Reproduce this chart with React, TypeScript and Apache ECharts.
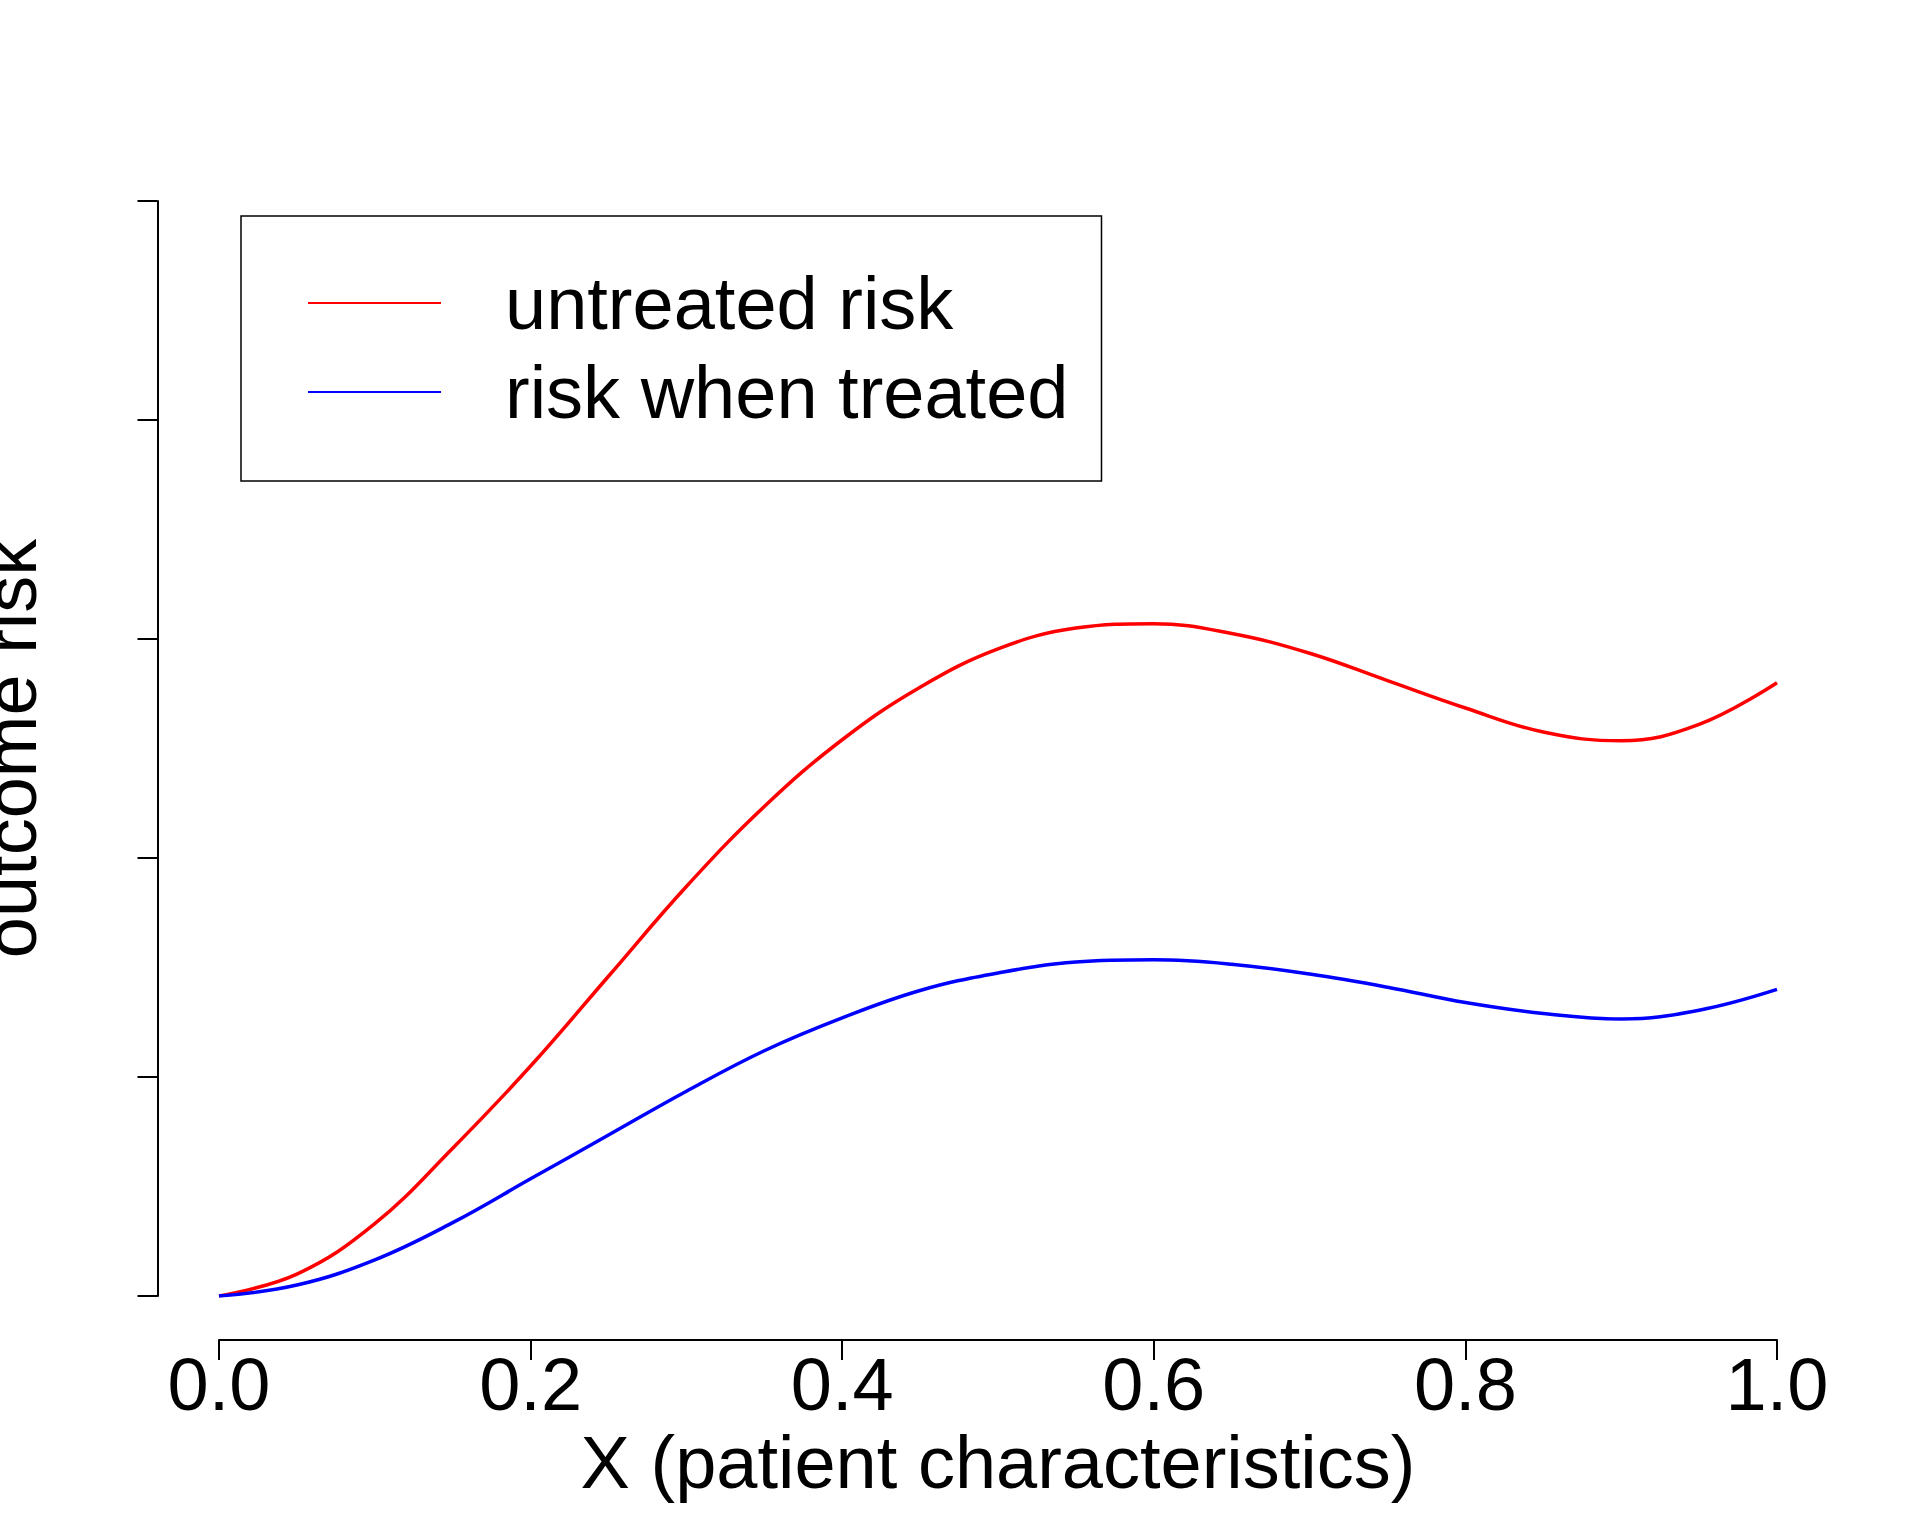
import React, { useEffect, useRef } from "react";
import * as echarts from "echarts";

const xValues = [0, 0.05, 0.1, 0.15, 0.2, 0.25, 0.3, 0.35, 0.4, 0.45, 0.5, 0.55, 0.6, 0.65, 0.7, 0.75, 0.8, 0.85, 0.9, 0.95, 1.0];
const untreatedRisk = [0, 0.02, 0.066, 0.135, 0.21, 0.292, 0.374, 0.447, 0.508, 0.556, 0.591, 0.61, 0.614, 0.605, 0.587, 0.562, 0.537, 0.515, 0.507, 0.522, 0.56];
const treatedRisk = [0, 0.01, 0.033, 0.067, 0.107, 0.147, 0.187, 0.224, 0.254, 0.279, 0.295, 0.305, 0.307, 0.303, 0.294, 0.282, 0.268, 0.258, 0.253, 0.261, 0.28];
const seriesNames = ["untreated risk", "risk when treated"];
const xTickLabels = ["0.0", "0.2", "0.4", "0.6", "0.8", "1.0"];

const FONT = "'Liberation Sans', Arial, Helvetica, sans-serif";
const FS = 74;

export default function App() {
  const ref = useRef<HTMLDivElement>(null);
  useEffect(() => {
    if (!ref.current) return;
    const chart = echarts.init(ref.current, undefined, { renderer: "svg" });
    const toPairs = (ys: number[]) => xValues.map((x, i) => [x, ys[i]]);
    chart.setOption({
      animation: false,
      backgroundColor: "#fff",
      textStyle: { fontFamily: FONT },
      grid: {
        left: 219,
        right: 143,
        top: 201,
        bottom: 240,
        containLabel: false,
        outerBoundsMode: "none",
      },
      legend: {
        data: seriesNames.map((n) => ({ name: n, icon: "rect" })),
        left: 241,
        top: 216,
        orient: "vertical",
        padding: [50, 33, 52, 67],
        itemGap: 15,
        itemWidth: 133,
        itemHeight: 2,
        borderColor: "#000",
        borderWidth: 1.5,
        borderRadius: 0,
        selectedMode: false,
        textStyle: {
          fontSize: FS,
          lineHeight: FS,
          color: "#000",
          fontFamily: FONT,
          padding: [0, 0, 0, 59],
        },
      },
      xAxis: {
        type: "value",
        min: 0,
        max: 1,
        interval: 0.2,
        offset: 44,
        axisLine: { show: true, onZero: false, lineStyle: { color: "#000", width: 2 } },
        axisTick: { show: true, length: 20, lineStyle: { color: "#000", width: 2 } },
        axisLabel: {
          fontSize: FS,
          lineHeight: FS,
          color: "#000",
          margin: 7,
          fontFamily: FONT,
          formatter: (v: number) => xTickLabels[Math.round(v / 0.2)] ?? v.toFixed(1),
        },
        splitLine: { show: false },
        name: "X (patient characteristics)",
        nameLocation: "middle",
        nameGap: 85,
        nameMoveOverlap: false,
        nameTextStyle: { fontSize: FS, lineHeight: FS, color: "#000", fontFamily: FONT },
      },
      yAxis: {
        type: "value",
        min: 0,
        max: 1,
        interval: 0.2,
        offset: 61.5,
        axisLine: { show: true, onZero: false, lineStyle: { color: "#000", width: 2 } },
        axisTick: { show: true, length: 20, lineStyle: { color: "#000", width: 2 } },
        axisLabel: { show: false },
        splitLine: { show: false },
        name: "outcome risk",
        nameLocation: "middle",
        nameRotate: 90,
        nameGap: 110,
        nameMoveOverlap: false,
        nameTextStyle: { fontSize: FS, lineHeight: FS, color: "#000", fontFamily: FONT },
      },
      series: [
        {
          name: seriesNames[0],
          type: "line",
          data: toPairs(untreatedRisk),
          smooth: 0.4,
          symbol: "none",
          showSymbol: false,
          lineStyle: { color: "#ff0000", width: 3.5 },
          itemStyle: { color: "#ff0000" },
        },
        {
          name: seriesNames[1],
          type: "line",
          data: toPairs(treatedRisk),
          smooth: 0.4,
          symbol: "none",
          showSymbol: false,
          lineStyle: { color: "#0000ff", width: 3.5 },
          itemStyle: { color: "#0000ff" },
        },
      ],
    });
    return () => chart.dispose();
  }, []);
  return (
    <div
      ref={ref}
      style={{ position: "absolute", left: 0, top: 0, width: 1920, height: 1536, background: "#fff" }}
    />
  );
}
